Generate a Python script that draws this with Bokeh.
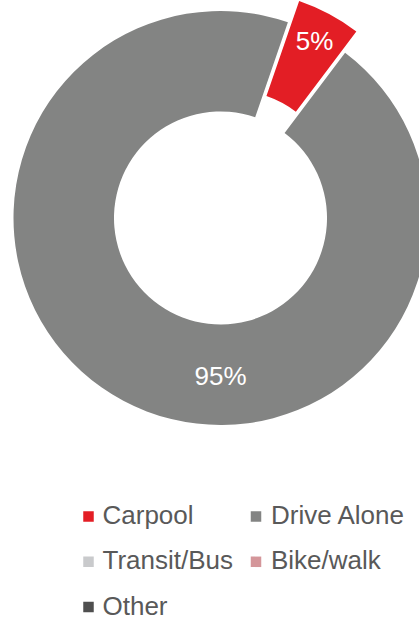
import math
from bokeh.plotting import figure
from bokeh.embed import file_html
from bokeh.resources import INLINE
from bokeh.core.properties import value
from bokeh.models import ColumnDataSource, Range1d

# ---- data ----
categories = ["Carpool", "Drive Alone", "Transit/Bus", "Bike/walk", "Other"]
shares = [5, 95, 0, 0, 0]          # percent
colors = ["#E31E25", "#838483", "#C9CACC", "#D4969A", "#4F4F4F"]

# ---- layout constants (pixels) ----
W, H = 419, 621
FONT = "Liberation Sans"
cx, cy = 220.0, H - 217.5
r_in, r_out = 106.5, 207.0
start_deg = 19.0                    # first slice starts here, clockwise from 12 o'clock
explode = {"Carpool": 24.0}
label_r = 168.0
label_angle_override = {"Drive Alone": 180.0}
TEXT_SHIFT = -10                    # screen-pixel correction for baseline placement

p = figure(width=W, height=H, x_range=Range1d(0, W), y_range=Range1d(0, H),
           output_backend="svg", toolbar_location=None, min_border=0,
           background_fill_color="white", border_fill_color="white")
p.axis.visible = False
p.grid.visible = False
p.outline_line_color = None

# ---- slices ----
wx, wy, a0s, a1s, wc = [], [], [], [], []
lx, ly, lt = [], [], []
cum = 0.0
for cat, v, c in zip(categories, shares, colors):
    if v <= 0:
        continue
    t0 = start_deg + cum * 3.6
    t1 = t0 + v * 3.6
    cum += v
    mid = math.radians((t0 + t1) / 2)
    e = explode.get(cat, 0.0)
    ox = cx + e * math.sin(mid)
    oy = cy + e * math.cos(mid)
    wx.append(ox); wy.append(oy)
    a0s.append(math.radians(90 - t0)); a1s.append(math.radians(90 - t1))
    wc.append(c)
    la = math.radians(label_angle_override.get(cat, (t0 + t1) / 2 + 1.5))
    lx.append(ox + label_r * math.sin(la))
    ly.append(oy + label_r * math.cos(la))
    lt.append(f"{v}%")

src = ColumnDataSource(dict(x=wx, y=wy, a0=a0s, a1=a1s, color=wc))
p.annular_wedge(x="x", y="y", inner_radius=r_in, outer_radius=r_out,
                start_angle="a0", end_angle="a1", direction="clock",
                fill_color="color", line_color=None, source=src)

lsrc = ColumnDataSource(dict(x=lx, y=ly, text=lt))
p.text(x="x", y="y", text="text", source=lsrc, text_color="white",
       text_font=value(FONT), text_font_size="26px",
       text_align="center", text_baseline="alphabetic", y_offset=TEXT_SHIFT)

# ---- legend ----
mx, my, mc, tx, ty = [], [], [], [], []
for i, (cat, c) in enumerate(zip(categories, colors)):
    col, row = i % 2, i // 2
    base = H - (524.5 + row * 45.3)
    mx.append(88 + col * 167.5); my.append(base + 8.5); mc.append(c)
    tx.append(102 + col * 168.5); ty.append(base)

p.scatter(x=mx, y=my, marker="square", size=10.5, fill_color=mc, line_color=None)
p.text(x=tx, y=ty, text=categories, text_color="#595959",
       text_font=value(FONT), text_font_size="26px",
       text_align="left", text_baseline="alphabetic", y_offset=TEXT_SHIFT)

open("out.html", "w").write(file_html(p, INLINE))
